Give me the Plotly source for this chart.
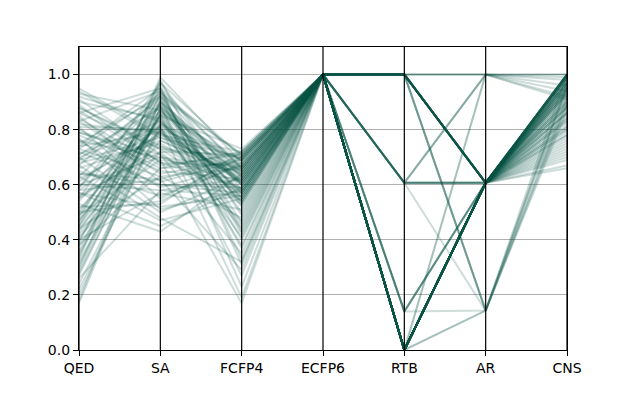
import plotly.graph_objects as go

# axis names, left to right
columns = ["QED", "SA", "FCFP4", "ECFP6", "RTB", "AR", "CNS"]

qed = [0.62, 0.45, 0.81, 0.28, 0.73, 0.55, 0.91, 0.38, 0.67, 0.49,
       0.84, 0.22, 0.59, 0.76, 0.43, 0.88, 0.33, 0.64, 0.71, 0.52,
       0.47, 0.79, 0.18, 0.69, 0.57, 0.93, 0.41, 0.74, 0.26, 0.61,
       0.83, 0.50, 0.66, 0.36, 0.77, 0.45, 0.89, 0.58, 0.30, 0.72,
       0.54, 0.86, 0.40, 0.63, 0.20, 0.80, 0.48, 0.70, 0.95, 0.35,
       0.60, 0.75, 0.44, 0.85, 0.27, 0.68, 0.53, 0.92, 0.39, 0.78,
       0.46, 0.65, 0.82, 0.31, 0.56, 0.73, 0.24, 0.87, 0.50, 0.69,
       0.42, 0.90, 0.58, 0.34, 0.76, 0.47, 0.63, 0.81, 0.29, 0.55,
       0.71, 0.38, 0.86, 0.60, 0.17, 0.79, 0.51, 0.67, 0.44, 0.94,
       0.57, 0.32, 0.74, 0.49, 0.83, 0.64, 0.40, 0.88, 0.59, 0.70]

sa = [0.78, 0.92, 0.55, 0.86, 0.63, 0.97, 0.71, 0.82, 0.48, 0.90,
      0.67, 0.80, 0.94, 0.59, 0.85, 0.74, 0.99, 0.62, 0.88, 0.53,
      0.83, 0.69, 0.91, 0.77, 0.45, 0.87, 0.72, 0.95, 0.58, 0.81,
      0.64, 0.89, 0.76, 0.93, 0.51, 0.84, 0.68, 0.79, 0.96, 0.60,
      0.87, 0.73, 0.57, 0.90, 0.82, 0.66, 0.94, 0.50, 0.78, 0.85,
      0.70, 0.92, 0.80, 0.61, 0.88, 0.75, 0.43, 0.83, 0.97, 0.65,
      0.89, 0.56, 0.79, 0.86, 0.72, 0.93, 0.81, 0.68, 0.54, 0.91,
      0.76, 0.84, 0.62, 0.98, 0.70, 0.87, 0.47, 0.80, 0.90, 0.74,
      0.83, 0.66, 0.95, 0.58, 0.88, 0.71, 0.82, 0.92, 0.63, 0.77,
      0.52, 0.86, 0.79, 0.69, 0.94, 0.60, 0.85, 0.73, 0.89, 0.81]

fcfp4 = [0.62, 0.55, 0.70, 0.38, 0.66, 0.58, 0.35, 0.69, 0.32, 0.64,
         0.71, 0.44, 0.60, 0.67, 0.27, 0.57, 0.68, 0.29, 0.63, 0.72,
         0.54, 0.65, 0.40, 0.70, 0.59, 0.61, 0.47, 0.66, 0.56, 0.19,
         0.69, 0.53, 0.64, 0.71, 0.58, 0.45, 0.67, 0.62, 0.31, 0.57,
         0.60, 0.70, 0.51, 0.65, 0.55, 0.68, 0.42, 0.63, 0.72, 0.57,
         0.66, 0.49, 0.61, 0.69, 0.37, 0.58, 0.64, 0.54, 0.70, 0.62,
         0.23, 0.67, 0.56, 0.60, 0.71, 0.46, 0.65, 0.59, 0.68, 0.52,
         0.63, 0.57, 0.70, 0.43, 0.61, 0.66, 0.55, 0.69, 0.50, 0.64,
         0.58, 0.72, 0.33, 0.62, 0.67, 0.53, 0.60, 0.71, 0.48, 0.65,
         0.56, 0.69, 0.61, 0.17, 0.66, 0.59, 0.73, 0.54, 0.63, 0.41]

ecfp6 = [1.0, 1.0, 1.0, 1.0, 1.0, 1.0, 1.0, 1.0, 1.0, 1.0,
         1.0, 1.0, 1.0, 1.0, 1.0, 1.0, 1.0, 1.0, 1.0, 1.0,
         1.0, 1.0, 1.0, 1.0, 1.0, 1.0, 1.0, 1.0, 1.0, 1.0,
         1.0, 1.0, 1.0, 1.0, 1.0, 1.0, 1.0, 1.0, 1.0, 1.0,
         1.0, 1.0, 1.0, 1.0, 1.0, 1.0, 1.0, 1.0, 1.0, 1.0,
         1.0, 1.0, 1.0, 1.0, 1.0, 1.0, 1.0, 1.0, 1.0, 1.0,
         1.0, 1.0, 1.0, 1.0, 1.0, 1.0, 1.0, 1.0, 1.0, 1.0,
         1.0, 1.0, 1.0, 1.0, 1.0, 1.0, 1.0, 1.0, 1.0, 1.0,
         1.0, 1.0, 1.0, 1.0, 1.0, 1.0, 1.0, 1.0, 1.0, 1.0,
         1.0, 1.0, 1.0, 1.0, 1.0, 1.0, 1.0, 1.0, 1.0, 1.0]

rtb = [1.0, 1.0, 1.0,
       1.0, 1.0, 1.0, 1.0, 1.0, 1.0, 1.0, 1.0, 1.0, 1.0, 1.0,
       1.0, 1.0, 1.0, 1.0, 1.0, 1.0, 1.0, 1.0, 1.0, 1.0, 1.0,
       1.0, 1.0, 1.0, 1.0,
       0.607, 0.607, 0.607,
       0.607, 0.607, 0.607, 0.607, 0.607, 0.607,
       0.607,
       0.14, 0.14, 0.14, 0.14, 0.14,
       0.14,
       0.0, 0.0, 0.0, 0.0, 0.0, 0.0, 0.0, 0.0, 0.0, 0.0,
       0.0, 0.0, 0.0, 0.0, 0.0, 0.0, 0.0, 0.0, 0.0, 0.0,
       0.0, 0.0, 0.0, 0.0, 0.0, 0.0, 0.0, 0.0, 0.0, 0.0,
       0.0, 0.0, 0.0, 0.0, 0.0, 0.0, 0.0, 0.0, 0.0, 0.0,
       0.0, 0.0, 0.0, 0.0, 0.0, 0.0, 0.0, 0.0, 0.0, 0.0,
       0.0,
       0.0, 0.0,
       0.0, 0.0]

ar = [1.0, 1.0, 1.0,
      0.607, 0.607, 0.607, 0.607, 0.607, 0.607, 0.607, 0.607, 0.607, 0.607, 0.607,
      0.607, 0.607, 0.607, 0.607, 0.607, 0.607, 0.607, 0.607, 0.607, 0.607, 0.607,
      0.143, 0.143, 0.143, 0.143,
      1.0, 1.0, 1.0,
      0.607, 0.607, 0.607, 0.607, 0.607, 0.607,
      0.143,
      0.607, 0.607, 0.607, 0.607, 0.607,
      0.143,
      0.607, 0.607, 0.607, 0.607, 0.607, 0.607, 0.607, 0.607, 0.607, 0.607,
      0.607, 0.607, 0.607, 0.607, 0.607, 0.607, 0.607, 0.607, 0.607, 0.607,
      0.607, 0.607, 0.607, 0.607, 0.607, 0.607, 0.607, 0.607, 0.607, 0.607,
      0.607, 0.607, 0.607, 0.607, 0.607, 0.607, 0.607, 0.607, 0.607, 0.607,
      0.607, 0.607, 0.607, 0.607, 0.607, 0.607, 0.607, 0.607, 0.607, 0.607,
      0.607,
      1.0, 1.0,
      0.143, 0.143]

cns = [1.00, 0.96, 0.92,
       0.98, 0.84, 1.00, 0.76, 0.93, 0.97, 0.70, 0.89, 1.00, 0.81, 0.95,
       0.99, 0.73, 0.91, 0.86, 1.00, 0.78, 0.96, 0.88, 0.67, 0.99, 0.94,
       0.97, 0.90, 1.00, 0.87,
       0.99, 0.94, 1.00,
       0.83, 1.00, 0.92, 0.75, 0.97, 0.88,
       0.95,
       0.99, 0.80, 0.93, 1.00, 0.86,
       0.92,
       1.00, 0.95, 0.82, 0.98, 0.90, 0.71, 0.99, 0.87, 0.94, 1.00,
       0.78, 0.96, 0.85, 0.99, 0.92, 0.66, 0.97, 0.89, 1.00, 0.81,
       0.95, 0.98, 0.74, 0.93, 1.00, 0.86, 0.97, 0.90, 0.79, 0.99,
       0.94, 0.69, 0.96, 1.00, 0.84, 0.91, 0.98, 0.77, 0.95, 0.88,
       1.00, 0.72, 0.97, 0.93, 0.83, 0.99, 0.90, 0.96, 0.80, 1.00,
       0.94,
       0.98, 0.91,
       0.96, 0.89]

line_color = "rgba(11,83,69,0.2)"
font = dict(family="DejaVu Sans", size=14, color="black")

fig = go.Figure()

# one trace per molecule so the transparency stacks like matplotlib
for row in zip(qed, sa, fcfp4, ecfp6, rtb, ar, cns):
    fig.add_trace(go.Scatter(x=list(range(len(columns))), y=list(row),
                             mode="lines", line=dict(color=line_color, width=2),
                             showlegend=False, hoverinfo="skip"))

# black vertical axis lines
for i in range(len(columns)):
    fig.add_shape(type="line", xref="x", yref="paper", x0=i, x1=i, y0=0, y1=1,
                  line=dict(color="black", width=1.2), layer="above")

# page body adds 8px, so margins are offset to land the axes where they belong
fig.update_layout(
    width=629, height=393,
    margin=dict(l=71, r=70, t=39, b=51),
    paper_bgcolor="white", plot_bgcolor="white",
    font=font,
    xaxis=dict(range=[0, 6], tickvals=list(range(len(columns))), ticktext=columns,
               showgrid=False, zeroline=False, ticks="outside", ticklen=5,
               tickcolor="black", showline=True, linecolor="black", mirror=True,
               linewidth=1.2, tickfont=font),
    yaxis=dict(range=[0, 1.1], tickvals=[0, 0.2, 0.4, 0.6, 0.8, 1.0],
               tickformat=".1f", showgrid=True, gridcolor="#b0b0b0", gridwidth=1,
               zeroline=False, ticks="outside", ticklen=5, tickcolor="black",
               showline=True, linecolor="black", mirror=True, linewidth=1.2,
               tickfont=font),
)

fig.write_html("out.html")
